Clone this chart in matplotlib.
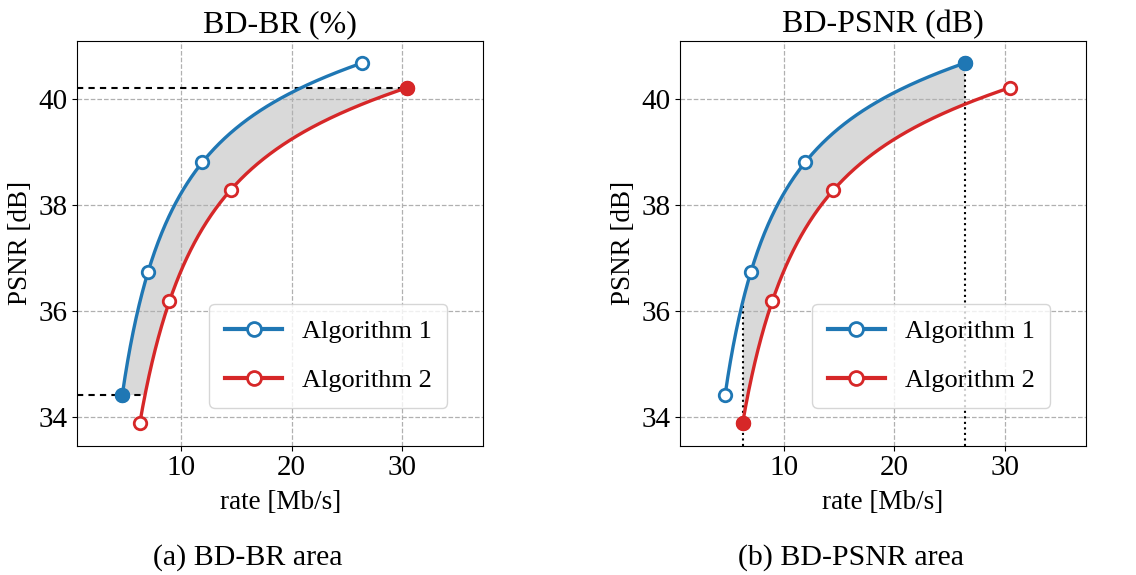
import matplotlib.pyplot as plt
import numpy as np

plt.rcParams['font.family'] = ['Liberation Serif', 'DejaVu Serif']
plt.rcParams['mathtext.fontset'] = 'stix'

# Rate-distortion points of the two codecs
rate_1 = [4.68, 7.01, 11.91, 26.35]
psnr_1 = [34.43, 36.74, 38.80, 40.67]
rate_2 = [6.26, 8.95, 14.48, 30.48]
psnr_2 = [33.89, 36.19, 38.28, 40.21]

labels = ['Algorithm 1', 'Algorithm 2']
titles = ['BD-BR (%)', 'BD-PSNR (dB)']
captions = ['(a) BD-BR area', '(b) BD-PSNR area']

BLUE = '#1f77b4'
RED = '#d62728'
FILL = '#d9d9d9'


def rd_curve(rate, psnr, n=300):
    # cubic fit of PSNR against log-rate, as in the Bjontegaard metric
    lr = np.log(rate)
    p = np.polyfit(lr, psnr, 3)
    lx = np.linspace(lr[0], lr[-1], n)
    return np.exp(lx), np.polyval(p, lx)


r1, q1 = rd_curve(rate_1, psnr_1)
r2, q2 = rd_curve(rate_2, psnr_2)

fig, axs = plt.subplots(1, 2, figsize=(11.36, 5.75), dpi=100)
fig.subplots_adjust(left=0.068, right=0.956, bottom=0.225, top=0.929, wspace=0.485)

for k, ax in enumerate(axs):
    ax.plot(r1, q1, color=BLUE, lw=2.4, zorder=3)
    ax.plot(r2, q2, color=RED, lw=2.4, zorder=3)
    ax.plot(rate_1, psnr_1, 'o', color=BLUE, mfc='white', mec=BLUE, ms=9, mew=2, zorder=4)
    ax.plot(rate_2, psnr_2, 'o', color=RED, mfc='white', mec=RED, ms=9, mew=2, zorder=4)
    xmin, ymin = 0.6, 33.47

    if k == 0:
        # area between curves over the common PSNR range
        lo = max(psnr_1[0], psnr_2[0])
        hi = min(psnr_1[-1], psnr_2[-1])
        yy = np.linspace(lo, hi, 300)
        x1 = np.interp(yy, q1, r1)
        x2 = np.interp(yy, q2, r2)
        ax.fill_betweenx(yy, x1, x2, color=FILL, lw=0, zorder=1)
        for y in (lo, hi):
            xe = max(np.interp(y, q1, r1), np.interp(y, q2, r2))
            ax.plot([xmin, xe], [y, y], '--', color='black', lw=1.5,
                    dashes=(3, 2.5), zorder=2)
        ax.plot(rate_1[0], psnr_1[0], 'o', color=BLUE, ms=10, zorder=5)
        ax.plot(rate_2[-1], psnr_2[-1], 'o', color=RED, ms=10, zorder=5)
    else:
        # area between curves over the common rate range
        lo = max(rate_1[0], rate_2[0])
        hi = min(rate_1[-1], rate_2[-1])
        xx = np.exp(np.linspace(np.log(lo), np.log(hi), 300))
        y1 = np.interp(xx, r1, q1)
        y2 = np.interp(xx, r2, q2)
        ax.fill_between(xx, y1, y2, color=FILL, lw=0, zorder=1)
        for x in (lo, hi):
            ye = max(np.interp(x, r1, q1), np.interp(x, r2, q2))
            ax.plot([x, x], [ymin, ye], ':', color='black', lw=1.5, zorder=2)
        ax.plot(rate_1[-1], psnr_1[-1], 'o', color=BLUE, ms=10, zorder=5)
        ax.plot(rate_2[0], psnr_2[0], 'o', color=RED, ms=10, zorder=5)

    # legend handles with hollow markers
    h1, = ax.plot([], [], '-o', color=BLUE, lw=3, mfc='white', mec=BLUE, ms=10, mew=2)
    h2, = ax.plot([], [], '-o', color=RED, lw=3, mfc='white', mec=RED, ms=10, mew=2)
    ax.legend([h1, h2], labels, loc='lower right', bbox_to_anchor=(0.912, 0.094),
              borderaxespad=0, fontsize=19, handlelength=2.15, borderpad=0.6,
              labelspacing=0.95, handletextpad=0.75)

    ax.set_xlim(xmin, 37.35)
    ax.set_ylim(ymin, 41.09)
    ax.set_xticks([10, 20, 30])
    ax.set_yticks([34, 36, 38, 40])
    ax.tick_params(labelsize=21)
    ax.grid(True, ls='--', color='#b0b0b0', lw=0.9)
    ax.set_xlabel('rate [Mb/s]', fontsize=19.5, labelpad=6)
    ax.set_ylabel('PSNR [dB]', fontsize=19.5)
    ax.set_title(titles[k], fontsize=23)

fig.text(0.218, 0.031, captions[0], ha='center', va='center', fontsize=21.5)
fig.text(0.749, 0.031, captions[1], ha='center', va='center', fontsize=21.5)

fig.savefig('out.png', dpi=100)
